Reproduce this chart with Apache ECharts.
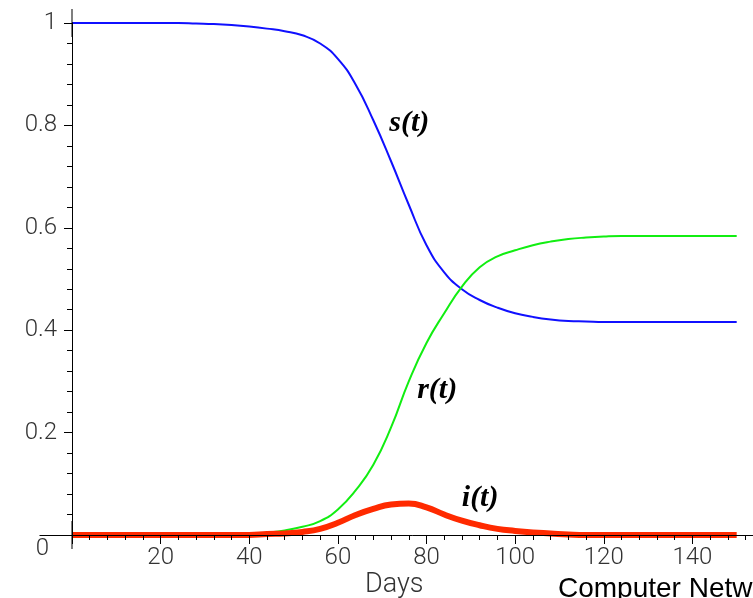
<!DOCTYPE html>
<html><head><meta charset="utf-8">
<script src="https://cdn.jsdelivr.net/npm/echarts@6/dist/echarts.min.js"></script>
<style>html,body{margin:0;padding:0;background:#fff}#c{width:753px;height:598px}</style>
</head><body><div id="c"></div>
<script>
// Days at which values were read (every 4 days)
const days = [0, 4, 8, 12, 16, 20, 24, 28, 32, 36, 40, 44, 48, 52, 56, 60, 64, 68, 72, 76, 80, 84, 88, 92, 96, 100, 104, 108, 112, 116, 120, 124, 128, 132, 136, 140, 144, 148, 150];
// s(t): susceptible fraction
const sVals = [1, 1, 1, 1, 1, 1, 1, 0.999, 0.998, 0.996, 0.993, 0.989, 0.984, 0.976, 0.960, 0.930, 0.880, 0.810, 0.730, 0.645, 0.566, 0.513, 0.480, 0.459, 0.444, 0.433, 0.426, 0.421, 0.418, 0.417, 0.416, 0.416, 0.416, 0.416, 0.416, 0.416, 0.416, 0.416, 0.416];
// r(t): recovered fraction
const rVals = [0, 0, 0, 0, 0, 0, 0, 0, 0, 0, 0, 0.004, 0.009, 0.016, 0.027, 0.050, 0.087, 0.137, 0.210, 0.300, 0.375, 0.433, 0.485, 0.523, 0.544, 0.556, 0.566, 0.573, 0.578, 0.581, 0.583, 0.584, 0.584, 0.584, 0.584, 0.584, 0.584, 0.584, 0.584];
// i(t): infected fraction
const iVals = [0, 0, 0, 0, 0, 0, 0, 0, 0, 0, 0, 0.002, 0.003, 0.006, 0.012, 0.024, 0.039, 0.051, 0.0595, 0.0615, 0.054, 0.040, 0.028, 0.019, 0.012, 0.008, 0.005, 0.003, 0.001, 0, 0, 0, 0, 0, 0, 0, 0, 0, 0];
const xTicks = [20, 40, 60, 80, 100, 120, 140];
const yTicks = [0, 0.2, 0.4, 0.6, 0.8, 1];

const pair = v => days.map((d, k) => [d, v[k]]);
const tickFont = {fontFamily: 'Roboto, "Liberation Sans", sans-serif', fontWeight: 300, fontSize: 24, color: '#333'};
const curveLabel = (txt, x, y) => ({
  symbol: 'none',
  data: [{coord: [x, y], symbol: 'circle', symbolSize: 1, itemStyle: {color: 'rgba(0,0,0,0)'},
    label: {show: true, position: 'inside', formatter: txt, fontFamily: '"Liberation Serif", serif',
      fontStyle: 'italic', fontWeight: 'bold', fontSize: 30, color: '#000'}}]
});
const texts = [
  {type: 'text', left: 365, top: 572, style: {text: 'Days', fontFamily: tickFont.fontFamily, fontWeight: 300, fontSize: 27, fill: '#333'}},
  {type: 'text', left: 558, top: 575, style: {text: 'Computer Networks', fontFamily: '"Liberation Sans", Arial, sans-serif', fontSize: 28, fill: '#000'}}
];

const chart = echarts.init(document.getElementById('c'), null, {renderer: 'canvas'});
chart.setOption({
  animation: false,
  backgroundColor: '#fff',
  grid: {left: 72, right: -28, top: 23, bottom: 63, containLabel: false, outerBoundsMode: 'none'},
  xAxis: {
    type: 'value', min: 0, max: 160, interval: 20, z: 5,
    splitLine: {show: false},
    axisLine: {onZero: false, lineStyle: {color: '#000', width: 1}},
    axisTick: {show: true, length: 9, lineStyle: {color: '#000'}},
    minorTick: {show: true, splitNumber: 5, length: 5, lineStyle: {color: '#000'}},
    axisLabel: Object.assign({margin: 11, showMinLabel: false,
      formatter: v => xTicks.includes(v) ? String(v) : ''}, tickFont)
  },
  yAxis: {
    type: 'value', min: 0, max: 1, interval: 0.2, z: 5,
    splitLine: {show: false},
    axisLine: {onZero: false, lineStyle: {color: '#000', width: 1}, symbol: ['rect', 'rect'], symbolSize: [1, 28]},
    axisTick: {show: true, length: 8, lineStyle: {color: '#000'}},
    minorTick: {show: true, splitNumber: 5, length: 5, lineStyle: {color: '#000'}},
    axisLabel: Object.assign({margin: 15,
      formatter: v => v === 0 ? '{z|0}' : (yTicks.includes(+v.toFixed(2)) ? String(+v.toFixed(2)) : ''),
      rich: {z: Object.assign({padding: [28, 8, 0, 0]}, tickFont)}}, tickFont)
  },
  series: [
    {type: 'line', name: 's', data: pair(sVals), showSymbol: false, smooth: 0.5,
      lineStyle: {color: '#1010ff', width: 2}, z: 3, markPoint: curveLabel('s(t)', 76.1, 0.805)},
    {type: 'line', name: 'r', data: pair(rVals), showSymbol: false, smooth: 0.5,
      lineStyle: {color: '#11ee11', width: 2}, z: 3, markPoint: curveLabel('r(t)', 82.4, 0.283)},
    {type: 'line', name: 'i', data: pair(iVals), showSymbol: false, smooth: 0.5,
      lineStyle: {color: '#ff2a00', width: 6}, z: 4, markPoint: curveLabel('i(t)', 92.1, 0.072)}
  ],
  graphic: texts
});
// short extension of the x axis line to the left of the origin (axis decoration)
const o = chart.convertToPixel({xAxisIndex: 0, yAxisIndex: 0}, [0, 0]);
const ox = Math.round(o[0]) + 0.5, oy = Math.round(o[1]) + 0.5;
chart.setOption({graphic: texts.concat([
  {type: 'line', z: 10, shape: {x1: ox - 33, y1: oy, x2: ox, y2: oy}, style: {stroke: '#000', lineWidth: 1.2}}
])});
</script></body></html>
